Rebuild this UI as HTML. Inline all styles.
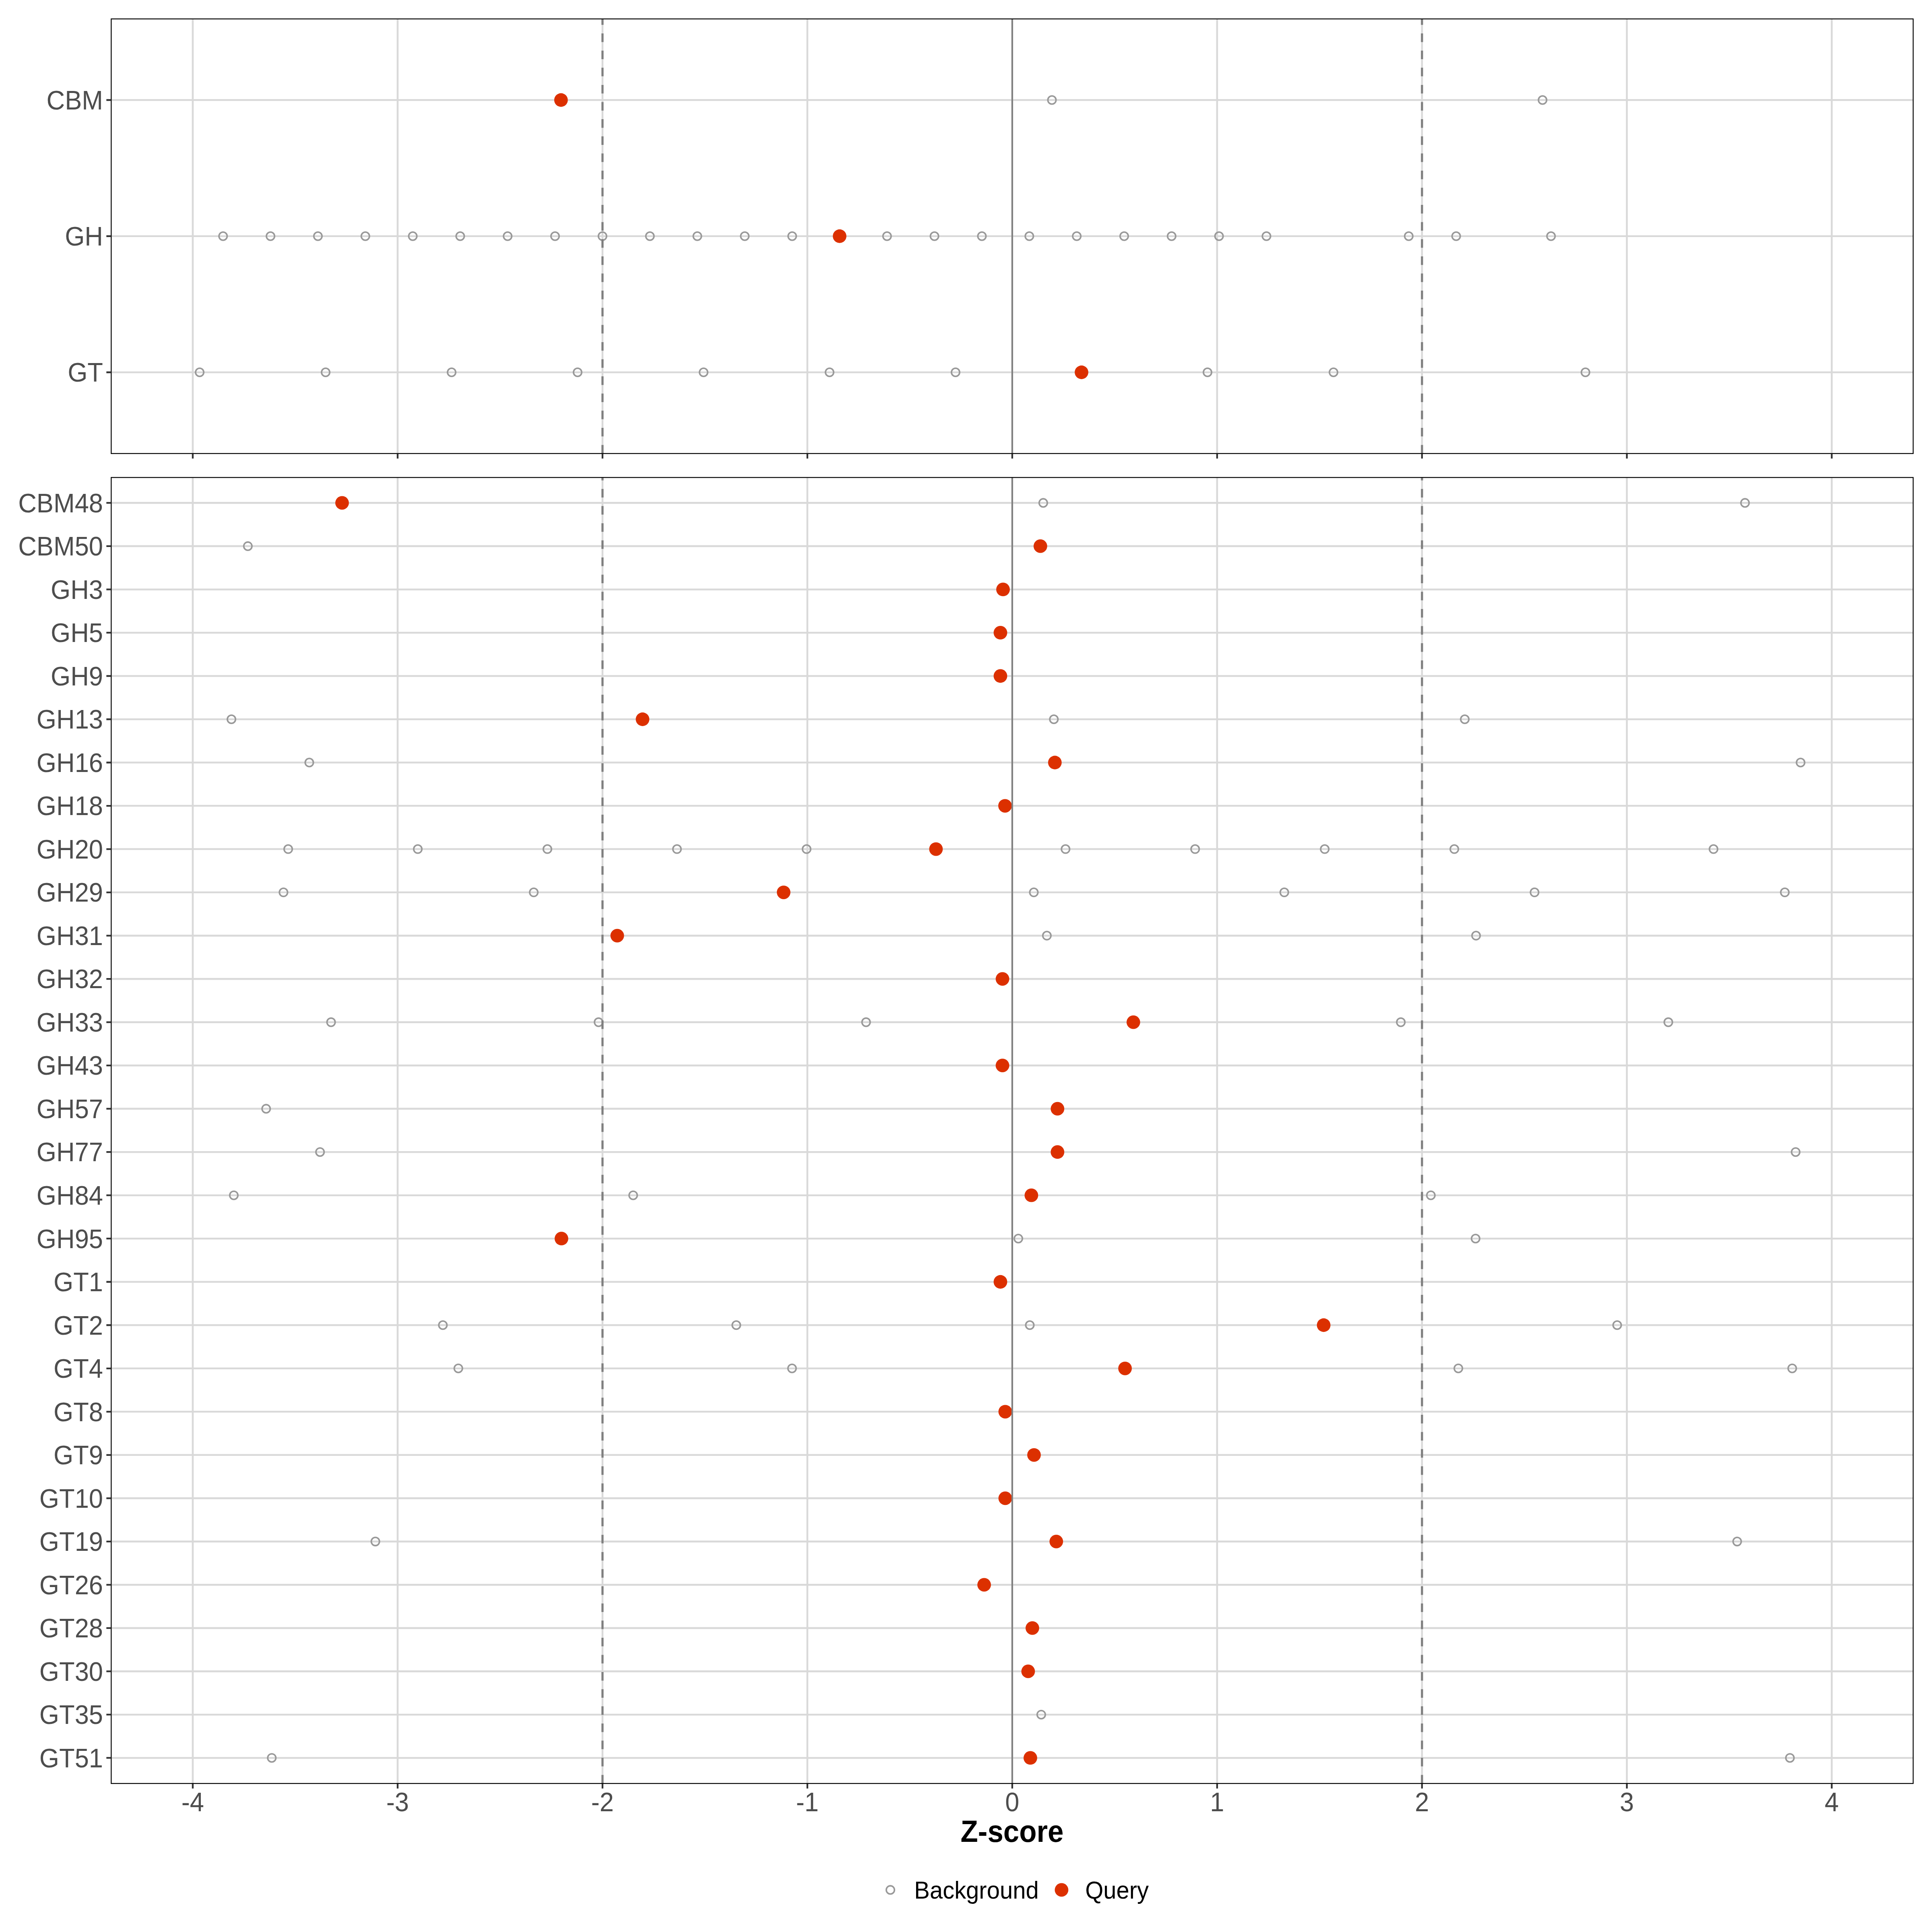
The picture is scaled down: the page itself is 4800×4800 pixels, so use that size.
<!DOCTYPE html><html><head><meta charset="utf-8"><title>Z-score plot</title><style>html,body{margin:0;padding:0;background:#fff;}svg{display:block;}text{font-family:"Liberation Sans",sans-serif;}</style></head><body>
<svg width="4800" height="4800" viewBox="0 0 4800 4800">
<rect x="0" y="0" width="4800" height="4800" fill="#FFFFFF"/>
<path d="M276.3 248.5H4753.2M276.3 586.75H4753.2M276.3 925H4753.2M478.9 47V1126.8M987.9 47V1126.8M1496.9 47V1126.8M2005.9 47V1126.8M2514.9 47V1126.8M3023.9 47V1126.8M3532.9 47V1126.8M4041.9 47V1126.8M4550.9 47V1126.8" stroke="#D9D9D9" stroke-width="4.6" fill="none"/>
<circle cx="2613.5" cy="248.5" r="10.15" fill="none" stroke="#999999" stroke-width="3.8"/>
<circle cx="3832.4" cy="248.5" r="10.15" fill="none" stroke="#999999" stroke-width="3.8"/>
<circle cx="1393.8" cy="248.5" r="16.9" fill="#DC3000"/>
<circle cx="554.2" cy="586.75" r="10.15" fill="none" stroke="#999999" stroke-width="3.8"/>
<circle cx="672.03" cy="586.75" r="10.15" fill="none" stroke="#999999" stroke-width="3.8"/>
<circle cx="789.86" cy="586.75" r="10.15" fill="none" stroke="#999999" stroke-width="3.8"/>
<circle cx="907.69" cy="586.75" r="10.15" fill="none" stroke="#999999" stroke-width="3.8"/>
<circle cx="1025.52" cy="586.75" r="10.15" fill="none" stroke="#999999" stroke-width="3.8"/>
<circle cx="1143.35" cy="586.75" r="10.15" fill="none" stroke="#999999" stroke-width="3.8"/>
<circle cx="1261.18" cy="586.75" r="10.15" fill="none" stroke="#999999" stroke-width="3.8"/>
<circle cx="1379.01" cy="586.75" r="10.15" fill="none" stroke="#999999" stroke-width="3.8"/>
<circle cx="1496.84" cy="586.75" r="10.15" fill="none" stroke="#999999" stroke-width="3.8"/>
<circle cx="1614.67" cy="586.75" r="10.15" fill="none" stroke="#999999" stroke-width="3.8"/>
<circle cx="1732.5" cy="586.75" r="10.15" fill="none" stroke="#999999" stroke-width="3.8"/>
<circle cx="1850.33" cy="586.75" r="10.15" fill="none" stroke="#999999" stroke-width="3.8"/>
<circle cx="1968.16" cy="586.75" r="10.15" fill="none" stroke="#999999" stroke-width="3.8"/>
<circle cx="2203.82" cy="586.75" r="10.15" fill="none" stroke="#999999" stroke-width="3.8"/>
<circle cx="2321.65" cy="586.75" r="10.15" fill="none" stroke="#999999" stroke-width="3.8"/>
<circle cx="2439.48" cy="586.75" r="10.15" fill="none" stroke="#999999" stroke-width="3.8"/>
<circle cx="2557.31" cy="586.75" r="10.15" fill="none" stroke="#999999" stroke-width="3.8"/>
<circle cx="2675.14" cy="586.75" r="10.15" fill="none" stroke="#999999" stroke-width="3.8"/>
<circle cx="2792.97" cy="586.75" r="10.15" fill="none" stroke="#999999" stroke-width="3.8"/>
<circle cx="2910.8" cy="586.75" r="10.15" fill="none" stroke="#999999" stroke-width="3.8"/>
<circle cx="3028.63" cy="586.75" r="10.15" fill="none" stroke="#999999" stroke-width="3.8"/>
<circle cx="3146.46" cy="586.75" r="10.15" fill="none" stroke="#999999" stroke-width="3.8"/>
<circle cx="3499.95" cy="586.75" r="10.15" fill="none" stroke="#999999" stroke-width="3.8"/>
<circle cx="3617.78" cy="586.75" r="10.15" fill="none" stroke="#999999" stroke-width="3.8"/>
<circle cx="3853.44" cy="586.75" r="10.15" fill="none" stroke="#999999" stroke-width="3.8"/>
<circle cx="2085.99" cy="586.75" r="16.9" fill="#DC3000"/>
<circle cx="496" cy="925" r="10.15" fill="none" stroke="#999999" stroke-width="3.8"/>
<circle cx="809" cy="925" r="10.15" fill="none" stroke="#999999" stroke-width="3.8"/>
<circle cx="1122" cy="925" r="10.15" fill="none" stroke="#999999" stroke-width="3.8"/>
<circle cx="1435" cy="925" r="10.15" fill="none" stroke="#999999" stroke-width="3.8"/>
<circle cx="1748" cy="925" r="10.15" fill="none" stroke="#999999" stroke-width="3.8"/>
<circle cx="2061" cy="925" r="10.15" fill="none" stroke="#999999" stroke-width="3.8"/>
<circle cx="2374" cy="925" r="10.15" fill="none" stroke="#999999" stroke-width="3.8"/>
<circle cx="3000" cy="925" r="10.15" fill="none" stroke="#999999" stroke-width="3.8"/>
<circle cx="3313" cy="925" r="10.15" fill="none" stroke="#999999" stroke-width="3.8"/>
<circle cx="3939" cy="925" r="10.15" fill="none" stroke="#999999" stroke-width="3.8"/>
<circle cx="2687" cy="925" r="16.9" fill="#DC3000"/>
<path d="M2514.9 1126.8V47" stroke="#7F7F7F" stroke-width="4.0" fill="none"/>
<path d="M1496.9 1126.8V47" stroke="#7F7F7F" stroke-width="5.3" stroke-dasharray="21.3 21.3" fill="none"/>
<path d="M3532.9 1126.8V47" stroke="#7F7F7F" stroke-width="5.3" stroke-dasharray="21.3 21.3" fill="none"/>
<rect x="276.3" y="47" width="4476.9" height="1079.8" fill="none" stroke="#000" stroke-width="2.3"/>
<path d="M264.3 248.5H275.3M264.3 586.75H275.3M264.3 925H275.3M478.9 1127.8V1139.3M987.9 1127.8V1139.3M1496.9 1127.8V1139.3M2005.9 1127.8V1139.3M2514.9 1127.8V1139.3M3023.9 1127.8V1139.3M3532.9 1127.8V1139.3M4041.9 1127.8V1139.3M4550.9 1127.8V1139.3" stroke="#333333" stroke-width="4.3" fill="none"/>
<text transform="translate(256 271.8) scale(1.012 1.06)" font-size="62.5" fill="#4D4D4D" text-anchor="end">CBM</text>
<text transform="translate(256 610.05) scale(1.012 1.06)" font-size="62.5" fill="#4D4D4D" text-anchor="end">GH</text>
<text transform="translate(256 948.3) scale(1.012 1.06)" font-size="62.5" fill="#4D4D4D" text-anchor="end">GT</text>
<path d="M276.3 1249.4H4753.2M276.3 1356.92H4753.2M276.3 1464.44H4753.2M276.3 1571.96H4753.2M276.3 1679.48H4753.2M276.3 1787H4753.2M276.3 1894.51H4753.2M276.3 2002.03H4753.2M276.3 2109.55H4753.2M276.3 2217.07H4753.2M276.3 2324.59H4753.2M276.3 2432.11H4753.2M276.3 2539.63H4753.2M276.3 2647.15H4753.2M276.3 2754.67H4753.2M276.3 2862.19H4753.2M276.3 2969.7H4753.2M276.3 3077.22H4753.2M276.3 3184.74H4753.2M276.3 3292.26H4753.2M276.3 3399.78H4753.2M276.3 3507.3H4753.2M276.3 3614.82H4753.2M276.3 3722.34H4753.2M276.3 3829.86H4753.2M276.3 3937.38H4753.2M276.3 4044.89H4753.2M276.3 4152.41H4753.2M276.3 4259.93H4753.2M276.3 4367.45H4753.2M478.9 1186.3V4431M987.9 1186.3V4431M1496.9 1186.3V4431M2005.9 1186.3V4431M2514.9 1186.3V4431M3023.9 1186.3V4431M3532.9 1186.3V4431M4041.9 1186.3V4431M4550.9 1186.3V4431" stroke="#D9D9D9" stroke-width="4.6" fill="none"/>
<circle cx="2591.9" cy="1249.4" r="10.15" fill="none" stroke="#999999" stroke-width="3.8"/>
<circle cx="4335.4" cy="1249.4" r="10.15" fill="none" stroke="#999999" stroke-width="3.8"/>
<circle cx="849.9" cy="1249.4" r="16.9" fill="#DC3000"/>
<circle cx="615.8" cy="1356.92" r="10.15" fill="none" stroke="#999999" stroke-width="3.8"/>
<circle cx="2584.8" cy="1356.92" r="16.9" fill="#DC3000"/>
<circle cx="2492" cy="1464.44" r="16.9" fill="#DC3000"/>
<circle cx="2485.5" cy="1571.96" r="16.9" fill="#DC3000"/>
<circle cx="2485.5" cy="1679.48" r="16.9" fill="#DC3000"/>
<circle cx="575" cy="1787" r="10.15" fill="none" stroke="#999999" stroke-width="3.8"/>
<circle cx="2618.3" cy="1787" r="10.15" fill="none" stroke="#999999" stroke-width="3.8"/>
<circle cx="3639.2" cy="1787" r="10.15" fill="none" stroke="#999999" stroke-width="3.8"/>
<circle cx="1596.4" cy="1787" r="16.9" fill="#DC3000"/>
<circle cx="768.4" cy="1894.51" r="10.15" fill="none" stroke="#999999" stroke-width="3.8"/>
<circle cx="4473.5" cy="1894.51" r="10.15" fill="none" stroke="#999999" stroke-width="3.8"/>
<circle cx="2620.8" cy="1894.51" r="16.9" fill="#DC3000"/>
<circle cx="2497" cy="2002.03" r="16.9" fill="#DC3000"/>
<circle cx="716" cy="2109.55" r="10.15" fill="none" stroke="#999999" stroke-width="3.8"/>
<circle cx="1037.98" cy="2109.55" r="10.15" fill="none" stroke="#999999" stroke-width="3.8"/>
<circle cx="1359.96" cy="2109.55" r="10.15" fill="none" stroke="#999999" stroke-width="3.8"/>
<circle cx="1681.94" cy="2109.55" r="10.15" fill="none" stroke="#999999" stroke-width="3.8"/>
<circle cx="2003.92" cy="2109.55" r="10.15" fill="none" stroke="#999999" stroke-width="3.8"/>
<circle cx="2647.28" cy="2109.55" r="10.15" fill="none" stroke="#999999" stroke-width="3.8"/>
<circle cx="2969.26" cy="2109.55" r="10.15" fill="none" stroke="#999999" stroke-width="3.8"/>
<circle cx="3291.24" cy="2109.55" r="10.15" fill="none" stroke="#999999" stroke-width="3.8"/>
<circle cx="3613.22" cy="2109.55" r="10.15" fill="none" stroke="#999999" stroke-width="3.8"/>
<circle cx="4257.18" cy="2109.55" r="10.15" fill="none" stroke="#999999" stroke-width="3.8"/>
<circle cx="2325.4" cy="2109.55" r="16.9" fill="#DC3000"/>
<circle cx="704.3" cy="2217.07" r="10.15" fill="none" stroke="#999999" stroke-width="3.8"/>
<circle cx="1326.07" cy="2217.07" r="10.15" fill="none" stroke="#999999" stroke-width="3.8"/>
<circle cx="2568.51" cy="2217.07" r="10.15" fill="none" stroke="#999999" stroke-width="3.8"/>
<circle cx="3190.78" cy="2217.07" r="10.15" fill="none" stroke="#999999" stroke-width="3.8"/>
<circle cx="3812.55" cy="2217.07" r="10.15" fill="none" stroke="#999999" stroke-width="3.8"/>
<circle cx="4434.32" cy="2217.07" r="10.15" fill="none" stroke="#999999" stroke-width="3.8"/>
<circle cx="1946.9" cy="2217.07" r="16.9" fill="#DC3000"/>
<circle cx="2600.9" cy="2324.59" r="10.15" fill="none" stroke="#999999" stroke-width="3.8"/>
<circle cx="3667.2" cy="2324.59" r="10.15" fill="none" stroke="#999999" stroke-width="3.8"/>
<circle cx="1533.5" cy="2324.59" r="16.9" fill="#DC3000"/>
<circle cx="2490.6" cy="2432.11" r="16.9" fill="#DC3000"/>
<circle cx="822.5" cy="2539.63" r="10.15" fill="none" stroke="#999999" stroke-width="3.8"/>
<circle cx="1487.1" cy="2539.63" r="10.15" fill="none" stroke="#999999" stroke-width="3.8"/>
<circle cx="2151.7" cy="2539.63" r="10.15" fill="none" stroke="#999999" stroke-width="3.8"/>
<circle cx="3480.3" cy="2539.63" r="10.15" fill="none" stroke="#999999" stroke-width="3.8"/>
<circle cx="4144.9" cy="2539.63" r="10.15" fill="none" stroke="#999999" stroke-width="3.8"/>
<circle cx="2815.8" cy="2539.63" r="16.9" fill="#DC3000"/>
<circle cx="2490.6" cy="2647.15" r="16.9" fill="#DC3000"/>
<circle cx="661.2" cy="2754.67" r="10.15" fill="none" stroke="#999999" stroke-width="3.8"/>
<circle cx="2627.3" cy="2754.67" r="16.9" fill="#DC3000"/>
<circle cx="795.1" cy="2862.19" r="10.15" fill="none" stroke="#999999" stroke-width="3.8"/>
<circle cx="4461.2" cy="2862.19" r="10.15" fill="none" stroke="#999999" stroke-width="3.8"/>
<circle cx="2627.3" cy="2862.19" r="16.9" fill="#DC3000"/>
<circle cx="580.9" cy="2969.7" r="10.15" fill="none" stroke="#999999" stroke-width="3.8"/>
<circle cx="1573.1" cy="2969.7" r="10.15" fill="none" stroke="#999999" stroke-width="3.8"/>
<circle cx="3554.9" cy="2969.7" r="10.15" fill="none" stroke="#999999" stroke-width="3.8"/>
<circle cx="2562.4" cy="2969.7" r="16.9" fill="#DC3000"/>
<circle cx="2530" cy="3077.22" r="10.15" fill="none" stroke="#999999" stroke-width="3.8"/>
<circle cx="3666" cy="3077.22" r="10.15" fill="none" stroke="#999999" stroke-width="3.8"/>
<circle cx="1394.9" cy="3077.22" r="16.9" fill="#DC3000"/>
<circle cx="2485.5" cy="3184.74" r="16.9" fill="#DC3000"/>
<circle cx="1100.3" cy="3292.26" r="10.15" fill="none" stroke="#999999" stroke-width="3.8"/>
<circle cx="1829.3" cy="3292.26" r="10.15" fill="none" stroke="#999999" stroke-width="3.8"/>
<circle cx="2558.5" cy="3292.26" r="10.15" fill="none" stroke="#999999" stroke-width="3.8"/>
<circle cx="4017.8" cy="3292.26" r="10.15" fill="none" stroke="#999999" stroke-width="3.8"/>
<circle cx="3288.6" cy="3292.26" r="16.9" fill="#DC3000"/>
<circle cx="1138.7" cy="3399.78" r="10.15" fill="none" stroke="#999999" stroke-width="3.8"/>
<circle cx="1967.8" cy="3399.78" r="10.15" fill="none" stroke="#999999" stroke-width="3.8"/>
<circle cx="3623.2" cy="3399.78" r="10.15" fill="none" stroke="#999999" stroke-width="3.8"/>
<circle cx="4452.7" cy="3399.78" r="10.15" fill="none" stroke="#999999" stroke-width="3.8"/>
<circle cx="2795.1" cy="3399.78" r="16.9" fill="#DC3000"/>
<circle cx="2497.5" cy="3507.3" r="16.9" fill="#DC3000"/>
<circle cx="2569" cy="3614.82" r="16.9" fill="#DC3000"/>
<circle cx="2497.5" cy="3722.34" r="16.9" fill="#DC3000"/>
<circle cx="932.6" cy="3829.86" r="10.15" fill="none" stroke="#999999" stroke-width="3.8"/>
<circle cx="4315.9" cy="3829.86" r="10.15" fill="none" stroke="#999999" stroke-width="3.8"/>
<circle cx="2624.3" cy="3829.86" r="16.9" fill="#DC3000"/>
<circle cx="2445.1" cy="3937.38" r="16.9" fill="#DC3000"/>
<circle cx="2564.9" cy="4044.89" r="16.9" fill="#DC3000"/>
<circle cx="2554.4" cy="4152.41" r="16.9" fill="#DC3000"/>
<circle cx="2586.9" cy="4259.93" r="10.15" fill="none" stroke="#999999" stroke-width="3.8"/>
<circle cx="675.2" cy="4367.45" r="10.15" fill="none" stroke="#999999" stroke-width="3.8"/>
<circle cx="4447" cy="4367.45" r="10.15" fill="none" stroke="#999999" stroke-width="3.8"/>
<circle cx="2559.9" cy="4367.45" r="16.9" fill="#DC3000"/>
<path d="M2514.9 4431V1186.3" stroke="#7F7F7F" stroke-width="4.0" fill="none"/>
<path d="M1496.9 4431V1186.3" stroke="#7F7F7F" stroke-width="5.3" stroke-dasharray="21.3 21.3" fill="none"/>
<path d="M3532.9 4431V1186.3" stroke="#7F7F7F" stroke-width="5.3" stroke-dasharray="21.3 21.3" fill="none"/>
<rect x="276.3" y="1186.3" width="4476.9" height="3244.7" fill="none" stroke="#000" stroke-width="2.3"/>
<path d="M264.3 1249.4H275.3M264.3 1356.92H275.3M264.3 1464.44H275.3M264.3 1571.96H275.3M264.3 1679.48H275.3M264.3 1787H275.3M264.3 1894.51H275.3M264.3 2002.03H275.3M264.3 2109.55H275.3M264.3 2217.07H275.3M264.3 2324.59H275.3M264.3 2432.11H275.3M264.3 2539.63H275.3M264.3 2647.15H275.3M264.3 2754.67H275.3M264.3 2862.19H275.3M264.3 2969.7H275.3M264.3 3077.22H275.3M264.3 3184.74H275.3M264.3 3292.26H275.3M264.3 3399.78H275.3M264.3 3507.3H275.3M264.3 3614.82H275.3M264.3 3722.34H275.3M264.3 3829.86H275.3M264.3 3937.38H275.3M264.3 4044.89H275.3M264.3 4152.41H275.3M264.3 4259.93H275.3M264.3 4367.45H275.3M478.9 4432V4443.5M987.9 4432V4443.5M1496.9 4432V4443.5M2005.9 4432V4443.5M2514.9 4432V4443.5M3023.9 4432V4443.5M3532.9 4432V4443.5M4041.9 4432V4443.5M4550.9 4432V4443.5" stroke="#333333" stroke-width="4.3" fill="none"/>
<text transform="translate(256 1272.7) scale(1.012 1.06)" font-size="62.5" fill="#4D4D4D" text-anchor="end">CBM48</text>
<text transform="translate(256 1380.22) scale(1.012 1.06)" font-size="62.5" fill="#4D4D4D" text-anchor="end">CBM50</text>
<text transform="translate(256 1487.74) scale(1.012 1.06)" font-size="62.5" fill="#4D4D4D" text-anchor="end">GH3</text>
<text transform="translate(256 1595.26) scale(1.012 1.06)" font-size="62.5" fill="#4D4D4D" text-anchor="end">GH5</text>
<text transform="translate(256 1702.78) scale(1.012 1.06)" font-size="62.5" fill="#4D4D4D" text-anchor="end">GH9</text>
<text transform="translate(256 1810.3) scale(1.012 1.06)" font-size="62.5" fill="#4D4D4D" text-anchor="end">GH13</text>
<text transform="translate(256 1917.81) scale(1.012 1.06)" font-size="62.5" fill="#4D4D4D" text-anchor="end">GH16</text>
<text transform="translate(256 2025.33) scale(1.012 1.06)" font-size="62.5" fill="#4D4D4D" text-anchor="end">GH18</text>
<text transform="translate(256 2132.85) scale(1.012 1.06)" font-size="62.5" fill="#4D4D4D" text-anchor="end">GH20</text>
<text transform="translate(256 2240.37) scale(1.012 1.06)" font-size="62.5" fill="#4D4D4D" text-anchor="end">GH29</text>
<text transform="translate(256 2347.89) scale(1.012 1.06)" font-size="62.5" fill="#4D4D4D" text-anchor="end">GH31</text>
<text transform="translate(256 2455.41) scale(1.012 1.06)" font-size="62.5" fill="#4D4D4D" text-anchor="end">GH32</text>
<text transform="translate(256 2562.93) scale(1.012 1.06)" font-size="62.5" fill="#4D4D4D" text-anchor="end">GH33</text>
<text transform="translate(256 2670.45) scale(1.012 1.06)" font-size="62.5" fill="#4D4D4D" text-anchor="end">GH43</text>
<text transform="translate(256 2777.97) scale(1.012 1.06)" font-size="62.5" fill="#4D4D4D" text-anchor="end">GH57</text>
<text transform="translate(256 2885.49) scale(1.012 1.06)" font-size="62.5" fill="#4D4D4D" text-anchor="end">GH77</text>
<text transform="translate(256 2993) scale(1.012 1.06)" font-size="62.5" fill="#4D4D4D" text-anchor="end">GH84</text>
<text transform="translate(256 3100.52) scale(1.012 1.06)" font-size="62.5" fill="#4D4D4D" text-anchor="end">GH95</text>
<text transform="translate(256 3208.04) scale(1.012 1.06)" font-size="62.5" fill="#4D4D4D" text-anchor="end">GT1</text>
<text transform="translate(256 3315.56) scale(1.012 1.06)" font-size="62.5" fill="#4D4D4D" text-anchor="end">GT2</text>
<text transform="translate(256 3423.08) scale(1.012 1.06)" font-size="62.5" fill="#4D4D4D" text-anchor="end">GT4</text>
<text transform="translate(256 3530.6) scale(1.012 1.06)" font-size="62.5" fill="#4D4D4D" text-anchor="end">GT8</text>
<text transform="translate(256 3638.12) scale(1.012 1.06)" font-size="62.5" fill="#4D4D4D" text-anchor="end">GT9</text>
<text transform="translate(256 3745.64) scale(1.012 1.06)" font-size="62.5" fill="#4D4D4D" text-anchor="end">GT10</text>
<text transform="translate(256 3853.16) scale(1.012 1.06)" font-size="62.5" fill="#4D4D4D" text-anchor="end">GT19</text>
<text transform="translate(256 3960.68) scale(1.012 1.06)" font-size="62.5" fill="#4D4D4D" text-anchor="end">GT26</text>
<text transform="translate(256 4068.19) scale(1.012 1.06)" font-size="62.5" fill="#4D4D4D" text-anchor="end">GT28</text>
<text transform="translate(256 4175.71) scale(1.012 1.06)" font-size="62.5" fill="#4D4D4D" text-anchor="end">GT30</text>
<text transform="translate(256 4283.23) scale(1.012 1.06)" font-size="62.5" fill="#4D4D4D" text-anchor="end">GT35</text>
<text transform="translate(256 4390.75) scale(1.012 1.06)" font-size="62.5" fill="#4D4D4D" text-anchor="end">GT51</text>
<text transform="translate(478.9 4499.6) scale(1.012 1.06)" font-size="62.5" fill="#4D4D4D" text-anchor="middle">-4</text>
<text transform="translate(987.9 4499.6) scale(1.012 1.06)" font-size="62.5" fill="#4D4D4D" text-anchor="middle">-3</text>
<text transform="translate(1496.9 4499.6) scale(1.012 1.06)" font-size="62.5" fill="#4D4D4D" text-anchor="middle">-2</text>
<text transform="translate(2005.9 4499.6) scale(1.012 1.06)" font-size="62.5" fill="#4D4D4D" text-anchor="middle">-1</text>
<text transform="translate(2514.9 4499.6) scale(1.012 1.06)" font-size="62.5" fill="#4D4D4D" text-anchor="middle">0</text>
<text transform="translate(3023.9 4499.6) scale(1.012 1.06)" font-size="62.5" fill="#4D4D4D" text-anchor="middle">1</text>
<text transform="translate(3532.9 4499.6) scale(1.012 1.06)" font-size="62.5" fill="#4D4D4D" text-anchor="middle">2</text>
<text transform="translate(4041.9 4499.6) scale(1.012 1.06)" font-size="62.5" fill="#4D4D4D" text-anchor="middle">3</text>
<text transform="translate(4550.9 4499.6) scale(1.012 1.06)" font-size="62.5" fill="#4D4D4D" text-anchor="middle">4</text>
<text transform="translate(2514.5 4575.7) scale(1 1.068)" font-size="70.86" font-weight="bold" fill="#000" text-anchor="middle">Z-score</text>
<circle cx="2212.1" cy="4695.4" r="10.15" fill="none" stroke="#999999" stroke-width="3.8"/>
<text transform="translate(2271.2 4717.1) scale(1 1.064)" font-size="58.0" fill="#000">Background</text>
<circle cx="2637.4" cy="4695.4" r="16.9" fill="#DC3000"/>
<text transform="translate(2696.2 4717.1) scale(1 1.064)" font-size="58.0" fill="#000">Query</text>
</svg></body></html>
